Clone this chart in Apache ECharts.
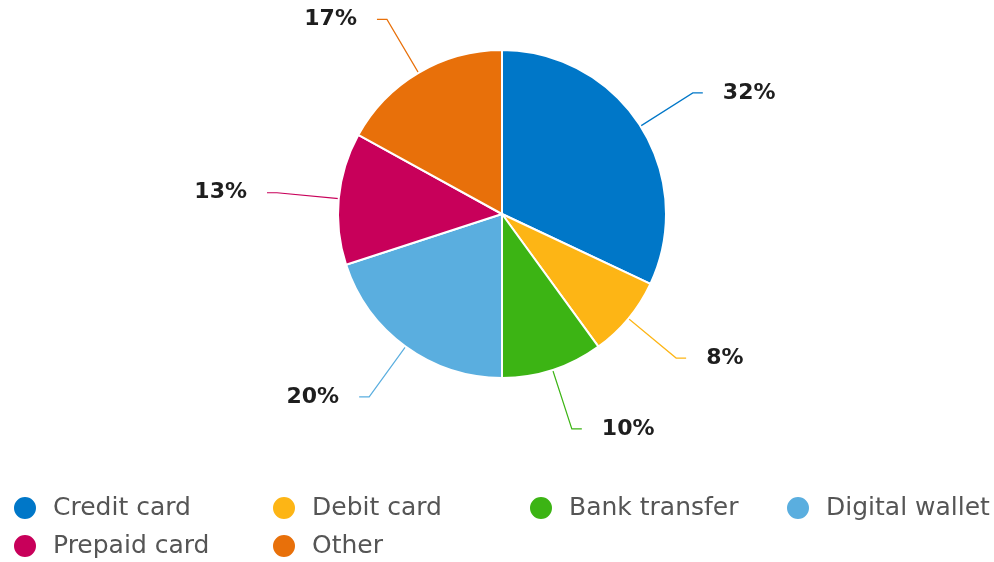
<!DOCTYPE html>
<html>
<head>
<meta charset="utf-8">
<script src="https://cdn.jsdelivr.net/npm/echarts@6/dist/echarts.min.js"></script>
<style>
  html, body { margin: 0; padding: 0; background: #ffffff; }
  #chart { width: 994px; height: 562px; }
</style>
</head>
<body>
<div id="chart"></div>
<script>
// Payment method shares (percent)
const categories = ['Credit card', 'Debit card', 'Bank transfer', 'Digital wallet', 'Prepaid card', 'Other'];
const shares = [32, 8, 10, 20, 13, 17];
const colors = ['#0077c8', '#fdb515', '#3cb414', '#5aaedf', '#c8005a', '#e8700a'];

const chart = echarts.init(document.getElementById('chart'), null, { renderer: 'canvas' });

// Legend is laid out as a 4-column grid: one vertical legend per column
const columnLeft = [12, 271, 528, 785];
const legends = columnLeft.map(function (left, col) {
  return {
    data: categories.filter(function (_, i) { return i % 4 === col; }),
    orient: 'vertical',
    left: left,
    top: 495,
    height: 66,
    padding: 0,
    icon: 'circle',
    itemWidth: 24,
    itemHeight: 24,
    itemGap: 12,
    textStyle: {
      fontFamily: 'DejaVu Sans',
      fontSize: 25,
      color: '#555555',
      padding: [0, 0, 0, 11]
    }
  };
});

chart.setOption({
  animation: false,
  color: colors,
  legend: legends,
  series: [{
    type: 'pie',
    center: [502, 214],
    radius: 164,
    startAngle: 90,
    clockwise: true,
    itemStyle: { borderColor: '#ffffff', borderWidth: 2 },
    label: {
      show: true,
      formatter: '{c}%',
      fontFamily: 'DejaVu Sans',
      fontWeight: 'bold',
      fontSize: 22,
      color: '#1e1e1e',
      distanceToLabelLine: 20
    },
    labelLine: {
      show: true,
      length: 62,
      length2: 10,
      lineStyle: { width: 1.2 }
    },
    data: categories.map(function (name, i) {
      return { name: name, value: shares[i] };
    })
  }]
});
</script>
</body>
</html>
